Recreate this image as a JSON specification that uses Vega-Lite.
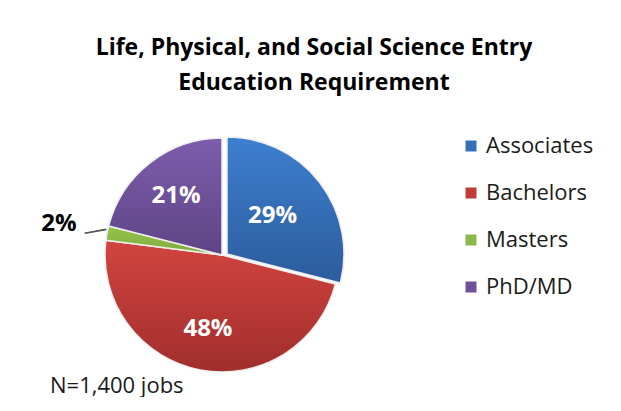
{
  "$schema": "https://vega.github.io/schema/vega-lite/v6.json",
  "autosize": {"type": "pad"},
  "background": "white",
  "padding": {"left": 41, "top": 37, "right": 0, "bottom": 0},
  "title": {
    "text": ["Life, Physical, and Social Science Entry", "Education Requirement"],
    "anchor": "middle",
    "frame": "group",
    "dx": 92,
    "offset": 39,
    "font": "Open Sans",
    "fontSize": 23,
    "fontWeight": "bold",
    "color": "#000000",
    "lineHeight": 35
  },
  "vconcat": [
    {
      "width": 234,
      "height": 234,
      "title": {
        "text": "N=1,400 jobs",
        "orient": "bottom",
        "anchor": "start",
        "frame": "group",
        "dx": -55,
        "offset": 1,
        "font": "Open Sans",
        "fontSize": 22,
        "fontWeight": "normal",
        "color": "#1a1a1a"
      },
      "data": {
        "values": [
          {"category": "Associates", "share": 29, "label": "29%"},
          {"category": "Bachelors", "share": 48, "label": "48%"},
          {"category": "Masters", "share": 2, "label": "2%"},
          {"category": "PhD/MD", "share": 21, "label": "21%"}
        ]
      },
      "encoding": {
        "theta": {"field": "share", "type": "quantitative", "stack": true},
        "order": {"field": "category", "sort": "ascending"}
      },
      "resolve": {"scale": {"radius": "independent"}},
      "layer": [
        {
          "mark": {"type": "arc", "outerRadius": 117, "stroke": "#eeeeee", "strokeWidth": 1.5},
          "encoding": {
            "color": {
              "field": "category",
              "type": "nominal",
              "scale": {
                "domain": ["Associates", "Bachelors", "Masters", "PhD/MD"],
                "range": ["#3670BA", "#BF3B38", "#8CB848", "#6F519A"]
              },
              "condition": [
                {"test": "datum.category === 'Bachelors'", "value": {"gradient": "linear", "x1": 0, "y1": 0, "x2": 0, "y2": 1, "stops": [{"offset": 0, "color": "#D2443F"}, {"offset": 1, "color": "#A02E2C"}]}},
                {"test": "datum.category === 'Masters'", "value": {"gradient": "linear", "x1": 0, "y1": 0, "x2": 0, "y2": 1, "stops": [{"offset": 0, "color": "#96C34C"}, {"offset": 1, "color": "#7FAA3D"}]}},
                {"test": "datum.category === 'PhD/MD'", "value": {"gradient": "linear", "x1": 0, "y1": 0, "x2": 0, "y2": 1, "stops": [{"offset": 0, "color": "#7E5DAC"}, {"offset": 1, "color": "#5E4485"}]}}
              ],
              "legend": {
                "orient": "none",
                "legendX": 355,
                "legendY": -3,
                "title": null,
                "symbolType": "square",
                "symbolSize": 121,
                "symbolStrokeWidth": 0,
                "symbolOpacity": 1,
                "labelFont": "Open Sans",
                "labelFontSize": 22,
                "labelColor": "#1a1a1a",
                "labelOffset": 4,
                "rowPadding": 25,
                "padding": 0
              }
            },
            "opacity": {"condition": {"test": "datum.category === 'Associates'", "value": 0}, "value": 1}
          }
        },
        {
          "mark": {"type": "arc", "outerRadius": 117, "stroke": "#eeeeee", "strokeWidth": 1.5, "xOffset": 5, "yOffset": -1},
          "encoding": {
            "color": {
              "field": "category",
              "type": "nominal",
              "condition": {"test": "datum.category === 'Associates'", "value": {"gradient": "linear", "x1": 0, "y1": 0, "x2": 0, "y2": 1, "stops": [{"offset": 0, "color": "#3E7FD0"}, {"offset": 1, "color": "#2C5C9C"}]}}
            },
            "opacity": {"condition": {"test": "datum.category === 'Associates'", "value": 1}, "value": 0}
          }
        },
        {
          "mark": {"type": "text", "font": "Open Sans", "fontSize": 24, "fontWeight": "bold", "fill": "#ffffff"},
          "encoding": {
            "text": {"field": "label"},
            "radius": {"field": "share", "type": "quantitative", "scale": {"type": "linear", "domain": [21, 29, 48], "range": [75, 64, 75], "clamp": true, "zero": false}},
            "opacity": {"condition": {"test": "datum.category === 'Masters'", "value": 0}, "value": 1}
          }
        },
        {
          "mark": {"type": "text", "font": "Open Sans", "fontSize": 24, "fontWeight": "bold", "fill": "#000000"},
          "encoding": {
            "text": {"field": "label"},
            "radius": {"field": "share", "type": "quantitative", "scale": {"type": "linear", "domain": [2, 21], "range": [166, 0], "clamp": true, "zero": false}},
            "opacity": {"condition": {"test": "datum.category === 'Masters'", "value": 1}, "value": 0}
          }
        },
        {
          "mark": {"type": "text", "font": "Open Sans", "fontSize": 24, "fill": "#555555", "angle": 350},
          "encoding": {
            "text": {"value": "—"},
            "radius": {"field": "share", "type": "quantitative", "scale": {"type": "linear", "domain": [2, 21], "range": [129, 0], "clamp": true, "zero": false}},
            "opacity": {"condition": {"test": "datum.category === 'Masters'", "value": 1}, "value": 0}
          }
        }
      ]
    }
  ],
  "config": {"view": {"stroke": null}}
}
